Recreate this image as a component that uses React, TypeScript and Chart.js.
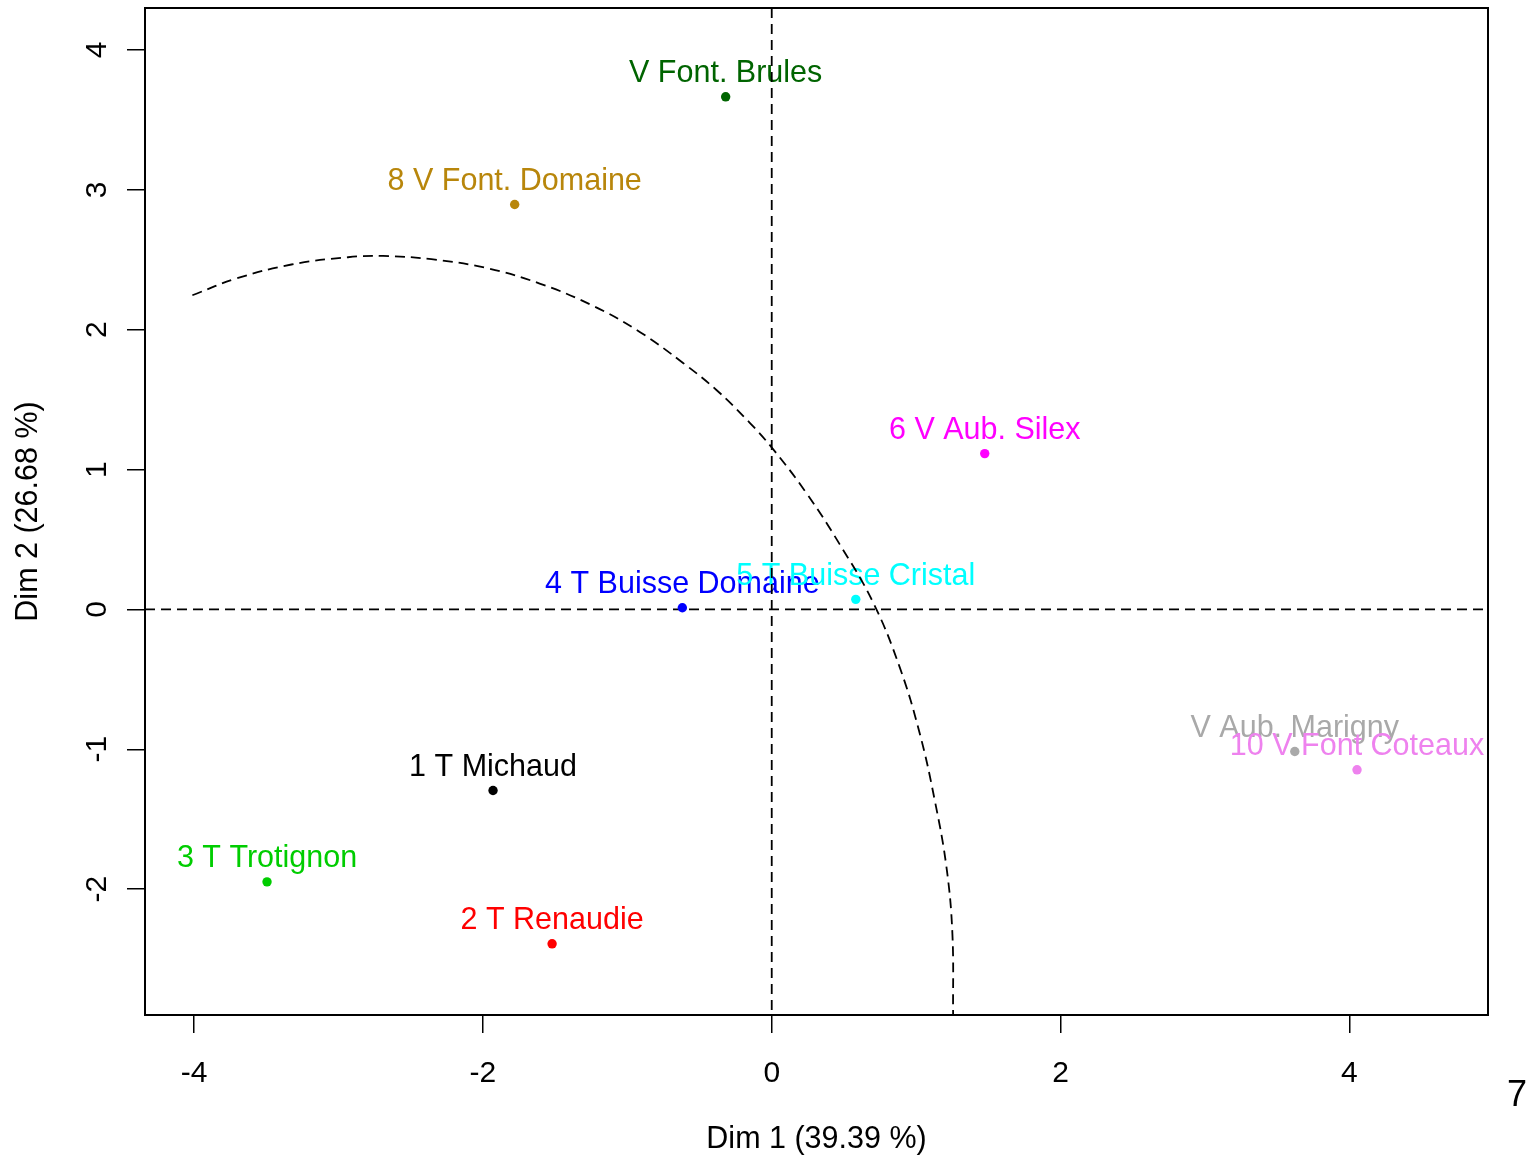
import React, { useEffect, useRef } from "react";
import { Chart, registerables } from "chart.js";

Chart.register(...registerables);

// ---- data ----
const individuals = [
  "1 T Michaud",
  "2 T Renaudie",
  "3 T Trotignon",
  "4 T Buisse Domaine",
  "5 T Buisse Cristal",
  "6 V Aub. Silex",
  "V Aub. Marigny",
  "8 V Font. Domaine",
  "V Font. Brules",
  "10 V Font Coteaux",
];
const dim1 = [-1.93, -1.521, -3.495, -0.619, 0.582, 1.475, 3.622, -1.78, -0.319, 4.053];
const dim2 = [-1.295, -2.391, -1.948, 0.012, 0.072, 1.114, -1.016, 2.895, 3.665, -1.147];
const pointColors = [
  "#000000",
  "#FF0000",
  "#00CD00",
  "#0000FF",
  "#00FFFF",
  "#FF00FF",
  "#A9A9A9",
  "#B8860B",
  "#006400",
  "#EE82EE",
];

// dashed curve (sampled along the reference)
const curveX = [
  -4.012, -3.707, -3.326, -2.934, -2.692, -2.357, -1.976, -1.607, -1.238, -0.914, -0.614, -0.383,
  -0.152, 0.009, 0.24, 0.471, 0.702, 0.886, 1.025, 1.129, 1.21, 1.251, 1.256,
];
const curveY = [
  2.246, 2.366, 2.466, 2.518, 2.527, 2.504, 2.441, 2.33, 2.171, 1.984, 1.762, 1.569, 1.334, 1.146,
  0.832, 0.465, 0.05, -0.413, -0.887, -1.366, -1.843, -2.318, -2.9,
];

const xTickValues = [-4, -2, 0, 2, 4];
const yTickValues = [-2, -1, 0, 1, 2, 3, 4];
const xMin = -4.34;
const xMax = 4.96;
const yMin = -2.9;
const yMax = 4.3;
const xTitle = "Dim 1 (39.39 %)";
const yTitle = "Dim 2 (26.68 %)";
const cornerNote = "7";

const FONT = '"Liberation Sans", Arial, Helvetica, sans-serif';
const DASH = [10, 6];

const overlayPlugin = {
  id: "overlay",
  beforeDatasetsDraw(chart: any) {
    const { ctx, chartArea: a, scales } = chart;
    const meta = chart.getDatasetMeta(0);
    ctx.save();
    // point labels (text above points)
    ctx.font = `30.5px ${FONT}`;
    ctx.textAlign = "center";
    ctx.textBaseline = "alphabetic";
    meta.data.forEach((el: any, i: number) => {
      ctx.fillStyle = pointColors[i];
      ctx.fillText(individuals[i], el.x, el.y - 14.5);
    });
    // zero reference lines
    const x0 = scales.x.getPixelForValue(0);
    const y0 = scales.y.getPixelForValue(0);
    ctx.strokeStyle = "#000";
    ctx.lineWidth = 1.8;
    ctx.setLineDash(DASH);
    ctx.beginPath();
    ctx.moveTo(a.left, y0);
    ctx.lineTo(a.right, y0);
    ctx.moveTo(x0, a.top);
    ctx.lineTo(x0, a.bottom);
    ctx.stroke();
    ctx.restore();
  },
  afterDatasetsDraw(chart: any) {
    const { ctx, chartArea: a, scales } = chart;
    ctx.save();
    // box
    ctx.strokeStyle = "#000";
    ctx.lineWidth = 2;
    ctx.setLineDash([]);
    ctx.strokeRect(a.left, a.top, a.right - a.left, a.bottom - a.top);
    // y tick labels, rotated (parallel to axis)
    ctx.fillStyle = "#000";
    ctx.font = `30px ${FONT}`;
    ctx.textAlign = "center";
    ctx.textBaseline = "alphabetic";
    scales.y.ticks.forEach((t: any) => {
      const py = scales.y.getPixelForValue(t.value);
      ctx.save();
      ctx.translate(a.left - 39, py);
      ctx.rotate(-Math.PI / 2);
      ctx.fillText(String(t.value), 0, 0);
      ctx.restore();
    });
    // stray note at lower right
    ctx.font = `36px ${FONT}`;
    ctx.textAlign = "center";
    ctx.textBaseline = "middle";
    ctx.fillText(cornerNote, a.right + 29, a.bottom + 81);
    ctx.restore();
  },
};

export default function App() {
  const ref = useRef<HTMLCanvasElement>(null);

  useEffect(() => {
    const canvas = ref.current;
    if (!canvas) return;
    const chart = new Chart(canvas, {
      type: "scatter",
      data: {
        datasets: [
          {
            label: "individuals",
            data: dim1.map((x, i) => ({ x, y: dim2[i] })),
            backgroundColor: pointColors,
            borderColor: pointColors,
            borderWidth: 0,
            pointRadius: 4.7,
            showLine: false,
            order: 0,
          },
          {
            label: "curve",
            data: curveX.map((x, i) => ({ x, y: curveY[i] })),
            showLine: true,
            borderColor: "#000",
            borderWidth: 1.8,
            borderDash: DASH,
            pointRadius: 0,
            tension: 0.4,
            fill: false,
            order: 1,
          },
        ],
      },
      options: {
        animation: false,
        responsive: false,
        devicePixelRatio: 1,
        layout: { padding: { left: 0, top: 8, right: 38, bottom: 0 } },
        plugins: {
          legend: { display: false },
          tooltip: { enabled: false },
        },
        scales: {
          x: {
            type: "linear",
            min: xMin,
            max: xMax,
            afterBuildTicks: (scale: any) => {
              scale.ticks = xTickValues.map((v) => ({ value: v }));
            },
            afterFit: (scale: any) => {
              scale.height = 143;
            },
            border: { display: false },
            grid: {
              drawOnChartArea: false,
              drawTicks: true,
              tickLength: 18,
              color: "#000",
              lineWidth: 1.5,
            },
            ticks: {
              color: "#000",
              font: { family: FONT, size: 30 },
              padding: 23,
              maxRotation: 0,
              minRotation: 0,
              callback: (v: any) => String(v),
            },
            title: {
              display: true,
              text: xTitle,
              color: "#000",
              font: { family: FONT, size: 30.5 },
              padding: { top: 0, bottom: 0 },
            },
          },
          y: {
            type: "linear",
            min: yMin,
            max: yMax,
            afterBuildTicks: (scale: any) => {
              scale.ticks = yTickValues.map((v) => ({ value: v }));
            },
            afterFit: (scale: any) => {
              scale.width = 145;
            },
            border: { display: false },
            grid: {
              drawOnChartArea: false,
              drawTicks: true,
              tickLength: 18,
              color: "#000",
              lineWidth: 1.5,
            },
            ticks: { display: false },
            title: {
              display: true,
              text: yTitle,
              color: "#000",
              font: { family: FONT, size: 30.5 },
              padding: { top: 10, bottom: 0 },
            },
          },
        },
      },
      plugins: [overlayPlugin],
    });
    return () => chart.destroy();
  }, []);

  return (
    <div
      style={{
        position: "absolute",
        left: 0,
        top: 0,
        width: 1526,
        height: 1158,
        background: "#fff",
        overflow: "hidden",
      }}
    >
      <canvas ref={ref} width={1526} height={1158} style={{ display: "block", width: 1526, height: 1158 }} />
    </div>
  );
}
